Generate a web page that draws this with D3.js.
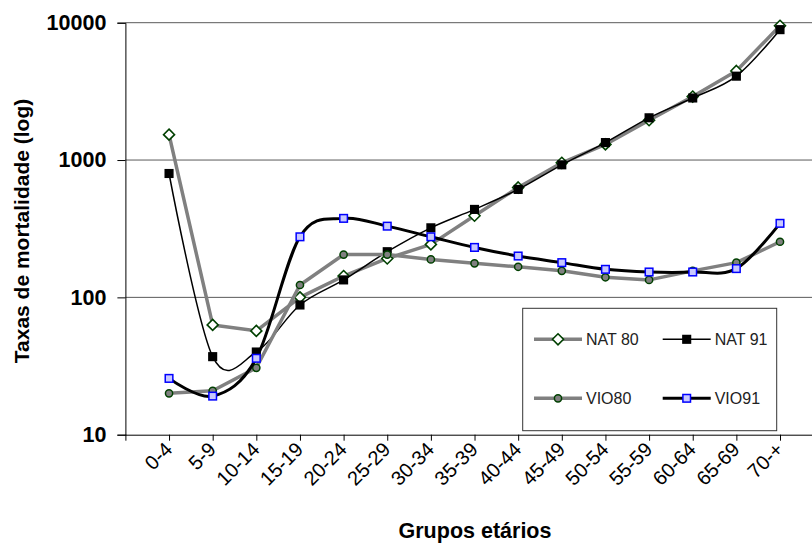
<!DOCTYPE html>
<html>
<head>
<meta charset="utf-8">
<script src="https://cdn.jsdelivr.net/npm/d3@7"></script>
<style>
  html, body { margin: 0; padding: 0; background: #fff; }
  svg { display: block; font-family: "Liberation Sans", Arial, sans-serif; }
</style>
</head>
<body>
<svg id="chart" width="812" height="545"></svg>
<script>
const categories = ["0-4","5-9","10-14","15-19","20-24","25-29","30-34","35-39","40-44","45-49","50-54","55-59","60-64","65-69","70-+"];
const nat80 = [1530, 63, 57, 100, 143, 192, 243, 393, 631, 955, 1300, 1950, 2900, 4450, 9500];
const nat91 = [798, 37, 40, 88, 134, 215, 321, 437, 611, 923, 1340, 2030, 2830, 4080, 8900];
const vio80 = [20, 20.9, 30.7, 123, 205, 205, 189, 177, 167, 156, 140, 134, 156, 179, 254];
const vio91 = [25.7, 19.1, 36, 276, 376, 330, 276, 231, 200, 179, 160, 153, 153, 162, 346];
const yTicks = [10, 100, 1000, 10000];
const seriesNames = ["NAT 80", "NAT 91", "VIO80", "VIO91"];

const svg = d3.select("#chart");
const W = 812;
const pLeft = 125.4, pTop = 22.7, pBottom = 434.7;
const step = 43.64;
const FONT = "'Liberation Sans', Arial, sans-serif";

const x = d3.scaleLinear().domain([-1, 15]).range([pLeft, pLeft + 16 * step]);
const y = d3.scaleLog().domain([10, 10000]).range([pBottom, pTop]);

// gridlines
svg.append("g").selectAll("line")
  .data(yTicks.slice(1))
  .join("line")
  .attr("x1", pLeft).attr("x2", W)
  .attr("y1", d => y(d)).attr("y2", d => y(d))
  .attr("stroke", "#5a5a5a").attr("stroke-width", 1);

// x axis
const xAxis = d3.axisBottom(x)
  .tickValues(d3.range(-1, 16))
  .tickSize(6)
  .tickFormat(i => (i >= 0 && i < categories.length) ? categories[i] : "");
const gx = svg.append("g").attr("transform", `translate(0,${pBottom})`).call(xAxis);
gx.select(".domain").attr("stroke", "#000").attr("d", `M${pLeft},0.5H${W}`);
gx.selectAll(".tick line").attr("stroke", "#000");
gx.selectAll(".tick text")
  .attr("font-size", 20)
  .attr("font-family", FONT)
  .attr("fill", "#000")
  .attr("text-anchor", "end")
  .attr("dy", null)
  .attr("y", 0)
  .attr("transform", "translate(4,16) rotate(-45)");

// y axis
const yAxis = d3.axisLeft(y)
  .tickValues(yTicks)
  .tickSize(8)
  .tickPadding(11)
  .tickFormat(d3.format("d"));
const gy = svg.append("g").attr("transform", `translate(${pLeft},0)`).call(yAxis);
gy.select(".domain").attr("stroke", "#000");
gy.selectAll(".tick line").attr("stroke", "#000");
gy.selectAll(".tick text")
  .attr("font-size", 21.5)
  .attr("font-weight", "bold")
  .attr("font-family", FONT)
  .attr("fill", "#000");

// axis titles
svg.append("text")
  .attr("transform", "translate(29,231) rotate(-90)")
  .attr("text-anchor", "middle")
  .attr("font-family", FONT)
  .attr("font-size", 21).attr("font-weight", "bold")
  .text("Taxas de mortalidade (log)");
svg.append("text")
  .attr("x", 475).attr("y", 538)
  .attr("text-anchor", "middle")
  .attr("font-family", FONT)
  .attr("font-size", 21.5).attr("font-weight", "bold")
  .text("Grupos etários");

function makeLine(vals, curve) {
  return d3.line().x((d, i) => x(i)).y(d => y(d)).curve(curve)(vals);
}

const styles = [
  { data: nat80, curve: d3.curveLinear, stroke: "#808080", width: 3.5, marker: "diamond", fill: "#fff", mstroke: "#004000" },
  { data: nat91, curve: d3.curveCardinal.tension(0), stroke: "#000", width: 1.5, marker: "square", fill: "#000", mstroke: "#000" },
  { data: vio80, curve: d3.curveLinear, stroke: "#808080", width: 3.5, marker: "circle", fill: "#808080", mstroke: "#004000" },
  { data: vio91, curve: d3.curveCardinal.tension(0), stroke: "#000", width: 3, marker: "square", fill: "#c8c8ff", mstroke: "#0000ff" }
];

function drawMarker(g, type, cx, cy, s) {
  if (type === "diamond") {
    g.append("path")
      .attr("d", `M${cx},${cy - 5.5}L${cx + 5.5},${cy}L${cx},${cy + 5.5}L${cx - 5.5},${cy}Z`)
      .attr("fill", s.fill).attr("stroke", s.mstroke).attr("stroke-width", 1.6);
  } else if (type === "square") {
    g.append("rect")
      .attr("x", cx - 3.8).attr("y", cy - 3.8).attr("width", 7.6).attr("height", 7.6)
      .attr("fill", s.fill).attr("stroke", s.mstroke).attr("stroke-width", 1.5);
  } else {
    g.append("circle")
      .attr("cx", cx).attr("cy", cy).attr("r", 3.6)
      .attr("fill", s.fill).attr("stroke", s.mstroke).attr("stroke-width", 1.5);
  }
}

const plot = svg.append("g");
styles.forEach(s => {
  const g = plot.append("g");
  g.append("path")
    .attr("d", makeLine(s.data, s.curve))
    .attr("fill", "none").attr("stroke", s.stroke).attr("stroke-width", s.width)
    .attr("stroke-linejoin", "round");
  s.data.forEach((v, i) => drawMarker(g, s.marker, x(i), y(v), s));
});

// legend
const lg = svg.append("g");
lg.append("rect")
  .attr("x", 522.7).attr("y", 308.3).attr("width", 254).attr("height", 122.4)
  .attr("fill", "#fff").attr("stroke", "#333").attr("stroke-width", 1);
const legPos = [
  { lx: 534, ly: 339.3 }, { lx: 662.7, ly: 339.3 },
  { lx: 534, ly: 398.3 }, { lx: 662.7, ly: 398.3 }
];
styles.forEach((s, k) => {
  const p = legPos[k];
  lg.append("line")
    .attr("x1", p.lx).attr("x2", p.lx + 48)
    .attr("y1", p.ly).attr("y2", p.ly)
    .attr("stroke", s.stroke).attr("stroke-width", s.width);
  drawMarker(lg, s.marker, p.lx + 24, p.ly, s);
  lg.append("text")
    .attr("x", p.lx + 52).attr("y", p.ly + 6)
    .attr("font-family", FONT)
    .attr("font-size", 16).attr("fill", "#222")
    .text(seriesNames[k]);
});
</script>
</body>
</html>
